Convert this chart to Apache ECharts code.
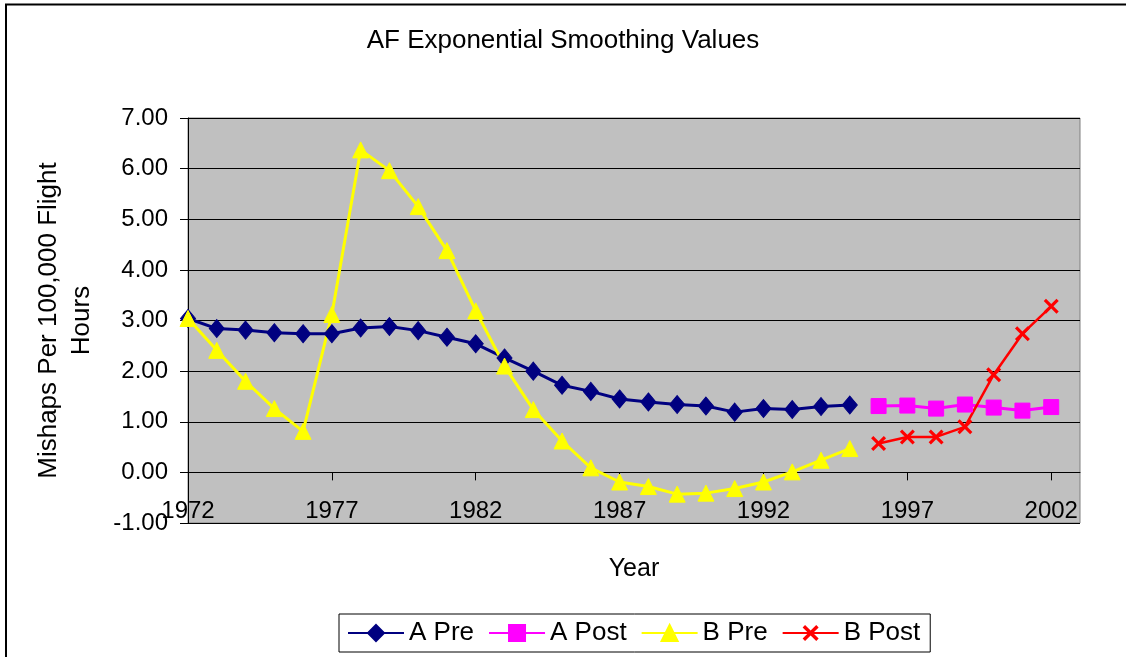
<!DOCTYPE html>
<html>
<head>
<meta charset="utf-8">
<script src="https://cdn.jsdelivr.net/npm/echarts@6/dist/echarts.min.js"></script>
<style>
  html, body { margin: 0; padding: 0; background: #ffffff; }
  #chart { width: 1126px; height: 657px; }
</style>
</head>
<body>
<div id="chart"></div>
<script>
// ---- Data ----
const preYears  = [1972,1973,1974,1975,1976,1977,1978,1979,1980,1981,1982,1983,1984,1985,1986,1987,1988,1989,1990,1991,1992,1993,1994,1995];
const postYears = [1996,1997,1998,1999,2000,2001,2002];
const aPre  = [3.04,2.84,2.81,2.76,2.74,2.74,2.85,2.88,2.80,2.67,2.54,2.26,2.00,1.72,1.60,1.45,1.39,1.34,1.31,1.19,1.26,1.24,1.30,1.33];
const aPost = [1.31,1.32,1.26,1.34,1.28,1.22,1.29];
const bPre  = [3.04,2.41,1.80,1.26,0.81,3.12,6.37,5.96,5.25,4.38,3.19,2.10,1.24,0.62,0.09,-0.19,-0.28,-0.43,-0.41,-0.32,-0.19,0.01,0.24,0.47];
const bPost = [0.57,0.70,0.70,0.90,1.93,2.74,3.28];
const seriesNames = ['A Pre','A Post','B Pre','B Post'];
const titleText = 'AF Exponential Smoothing Values';
const yAxisTitle = 'Mishaps Per 100,000 Flight\nHours';
const xAxisTitle = 'Year';
const yMin = -1, yMax = 7;

function pairs(xs, ys) { return xs.map((x, i) => [x, ys[i]]); }

const FONT = "'Liberation Sans', Arial, sans-serif";
const crossPath = 'path://M0,1.5L1.5,0L5,3.5L8.5,0L10,1.5L6.5,5L10,8.5L8.5,10L5,6.5L1.5,10L0,8.5L3.5,5Z';

const W = 1126, H = 657;
const gridTop = 118, gridBottom = 134;
const plotH = H - gridTop - gridBottom;
// move the x axis up to the zero line (same thing onZero would do)
const xAxisOffset = -plotH * (0 - yMin) / (yMax - yMin);

const chart = echarts.init(document.getElementById('chart'), null, { renderer: 'canvas' });
chart.setOption({
  backgroundColor: '#ffffff',
  animation: false,
  textStyle: { fontFamily: FONT, color: '#000' },
  title: {
    text: titleText,
    left: 'center',
    top: 28,
    padding: 0,
    textStyle: { fontFamily: FONT, fontSize: 26, fontWeight: 'normal', color: '#000' }
  },
  graphic: [{
    type: 'polyline',
    shape: { points: [[6, 700], [6, 4.5], [1130, 4.5]] },
    style: { stroke: '#000', lineWidth: 2, fill: null },
    silent: true
  }],
  legend: {
    data: seriesNames,
    left: 339,
    top: 614,
    padding: [6, 10, 6, 8],
    itemGap: 14,
    itemWidth: 56,
    itemHeight: 20,
    borderColor: '#000',
    borderWidth: 1,
    backgroundColor: '#fff',
    borderRadius: 0,
    textStyle: { fontFamily: FONT, fontSize: 26, color: '#000' }
  },
  grid: {
    left: 188, right: 46, top: gridTop, bottom: gridBottom,
    show: true,
    backgroundColor: '#C0C0C0',
    borderColor: '#808080',
    borderWidth: 1,
    containLabel: false
  },
  xAxis: {
    type: 'value',
    min: 1972, max: 2003, interval: 5,
    offset: xAxisOffset,
    name: xAxisTitle,
    nameLocation: 'middle',
    nameGap: 84,
    nameTextStyle: { fontFamily: FONT, fontSize: 25, color: '#000' },
    axisLine: { show: true, onZero: false, lineStyle: { color: '#000', width: 1 } },
    axisTick: { show: true, length: 8, inside: false, lineStyle: { color: '#000' } },
    axisLabel: {
      fontFamily: FONT, fontSize: 24, color: '#000', margin: 27,
      showMaxLabel: false,
      formatter: v => (v === 2003 ? '' : String(v))
    },
    splitLine: { show: false }
  },
  yAxis: {
    type: 'value',
    min: yMin, max: yMax, interval: 1,
    name: yAxisTitle,
    nameLocation: 'middle',
    nameRotate: 90,
    nameGap: 90,
    nameTextStyle: { fontFamily: FONT, fontSize: 26, color: '#000', lineHeight: 33, align: 'center' },
    axisLine: { show: true, lineStyle: { color: '#000', width: 1 } },
    axisTick: { show: true, length: 8, inside: false, lineStyle: { color: '#000' } },
    axisLabel: {
      fontFamily: FONT, fontSize: 24, color: '#000', margin: 20,
      formatter: v => v.toFixed(2)
    },
    splitLine: { show: true, lineStyle: { color: '#000', width: 1 } }
  },
  series: [
    {
      name: seriesNames[0], type: 'line', data: pairs(preYears, aPre),
      symbol: 'diamond', symbolSize: [15, 18],
      lineStyle: { color: '#000080', width: 3 },
      itemStyle: { color: '#000080', borderColor: '#000080', borderWidth: 1 }
    },
    {
      name: seriesNames[1], type: 'line', data: pairs(postYears, aPost),
      symbol: 'rect', symbolSize: 15,
      lineStyle: { color: '#FF00FF', width: 3 },
      itemStyle: { color: '#FF00FF', borderColor: '#FF00FF', borderWidth: 1 }
    },
    {
      name: seriesNames[2], type: 'line', data: pairs(preYears, bPre),
      symbol: 'triangle', symbolSize: [16, 16],
      lineStyle: { color: '#FFFF00', width: 3 },
      itemStyle: { color: '#FFFF00', borderColor: '#FFFF00', borderWidth: 1 }
    },
    {
      name: seriesNames[3], type: 'line', data: pairs(postYears, bPost),
      symbol: crossPath, symbolSize: 15,
      lineStyle: { color: '#FF0000', width: 2.5 },
      itemStyle: { color: '#FF0000' }
    }
  ]
});
</script>
</body>
</html>
